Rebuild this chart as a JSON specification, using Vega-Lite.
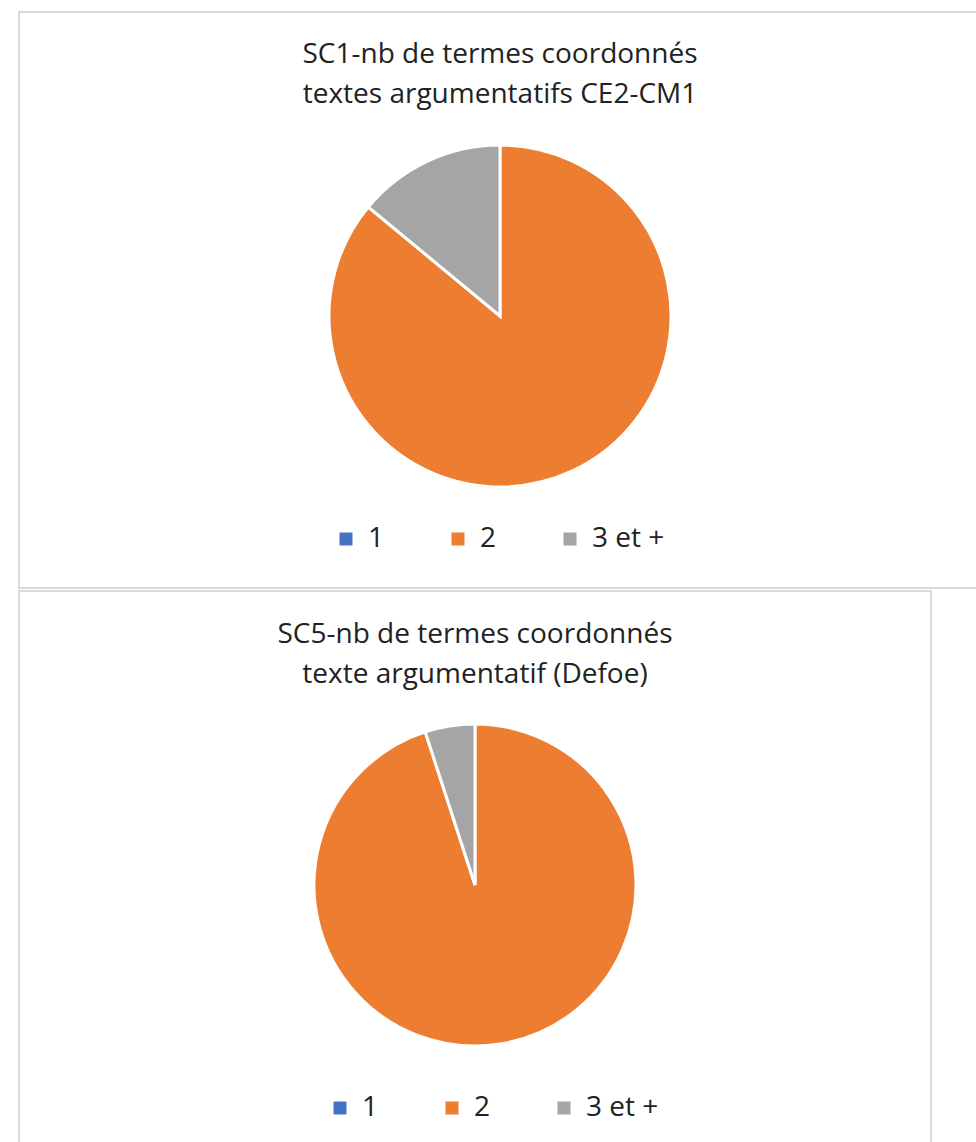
{
  "$schema": "https://vega.github.io/schema/vega-lite/v6.json",
  "padding": {"left": 18, "top": 11, "right": 0, "bottom": 0},
  "background": "white",
  "config": {
    "view": {"stroke": "#D9D9D9", "strokeWidth": 2},
    "font": "Open Sans",
    "concat": {"spacing": 1}
  },
  "resolve": {"scale": {"color": "independent", "theta": "independent"}, "legend": {"color": "independent"}},
  "vconcat": [
    {
      "width": 962,
      "height": 576,
      "view": {"stroke": "#D9D9D9", "strokeWidth": 2},
      "title": {
        "text": ["SC1-nb de termes coordonnés", "textes argumentatifs CE2-CM1"],
        "fontSize": 28, "font": "Open Sans", "fontWeight": "normal", "color": "#222222",
        "lineHeight": 40, "offset": -97, "anchor": "middle", "frame": "group"
      },
      "data": {"values": [
        {"categorie": "1", "n": 0},
        {"categorie": "2", "n": 86},
        {"categorie": "3 et +", "n": 14}
      ]},
      "mark": {"type": "arc", "outerRadius": 171, "stroke": "white", "strokeWidth": 3, "yOffset": 16},
      "encoding": {
        "theta": {"field": "n", "type": "quantitative", "stack": true},
        "color": {
          "field": "categorie", "type": "nominal",
          "scale": {"domain": ["1", "2", "3 et +"], "range": ["#4472C4", "#ED7D31", "#A5A5A5"]},
          "legend": {
            "orient": "none", "legendX": 313, "legendY": 513, "direction": "horizontal",
            "title": null, "symbolType": "square", "symbolSize": 169, "symbolStrokeWidth": 0,
            "labelFontSize": 28, "labelFont": "Open Sans", "labelColor": "#222222", "labelOffset": 8,
            "columnPadding": 3, "gridAlign": "all"
          }
        }
      }
    },
    {
      "width": 912,
      "height": 588,
      "view": {"stroke": "#D9D9D9", "strokeWidth": 2},
      "title": {
        "text": ["SC5-nb de termes coordonnés", "texte argumentatif (Defoe)"],
        "fontSize": 28, "font": "Open Sans", "fontWeight": "normal", "color": "#222222",
        "lineHeight": 40, "offset": -98, "anchor": "middle", "frame": "group"
      },
      "data": {"values": [
        {"categorie": "1", "n": 0},
        {"categorie": "2", "n": 19},
        {"categorie": "3 et +", "n": 1}
      ]},
      "mark": {"type": "arc", "outerRadius": 161, "stroke": "white", "strokeWidth": 3},
      "encoding": {
        "theta": {"field": "n", "type": "quantitative", "stack": true},
        "color": {
          "field": "categorie", "type": "nominal",
          "scale": {"domain": ["1", "2", "3 et +"], "range": ["#4472C4", "#ED7D31", "#A5A5A5"]},
          "legend": {
            "orient": "none", "legendX": 307, "legendY": 503, "direction": "horizontal",
            "title": null, "symbolType": "square", "symbolSize": 169, "symbolStrokeWidth": 0,
            "labelFontSize": 28, "labelFont": "Open Sans", "labelColor": "#222222", "labelOffset": 8,
            "columnPadding": 3, "gridAlign": "all"
          }
        }
      }
    }
  ]
}
